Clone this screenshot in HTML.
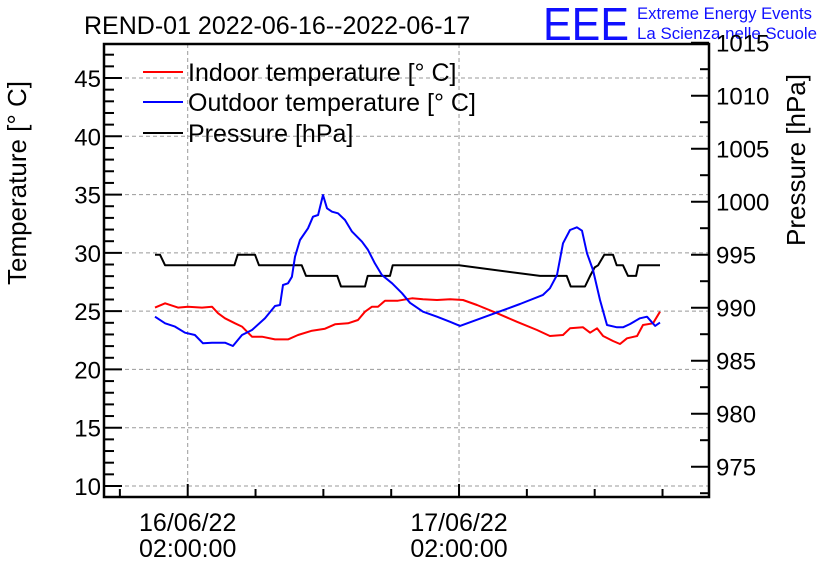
<!DOCTYPE html>
<html><head><meta charset="utf-8"><style>
html,body{margin:0;padding:0;background:#fff;}
svg{display:block;font-family:"Liberation Sans",sans-serif;}
</style></head><body>
<svg id="chart" width="836" height="572" viewBox="0 0 836 572">
<text x="84" y="34" font-size="25">REND-01 2022-06-16--2022-06-17</text>
<text x="543" y="40" font-size="46" fill="#1010ff" textLength="86" lengthAdjust="spacingAndGlyphs">EEE</text>
<text x="637" y="19" font-size="16.5" fill="#1010ff" textLength="175" lengthAdjust="spacingAndGlyphs">Extreme Energy Events</text>
<text x="637" y="39" font-size="16.5" fill="#1010ff" textLength="180" lengthAdjust="spacingAndGlyphs">La Scienza nelle Scuole</text>
<text transform="translate(26,183) rotate(-90)" text-anchor="middle" font-size="26">Temperature [° C]</text>
<text transform="translate(805,160) rotate(-90)" text-anchor="middle" font-size="26">Pressure [hPa]</text>
<g id="grid"></g>
<g id="series"></g>
<g id="axes"></g>
<g id="legend"></g>
</svg>
<script>
const indoorHours=[-0.89,0,1.14,2.03,3.26,4.15,4.68,5.30,6.18,6.80,7.69,8.57,9.72,10.87,11.76,12.99,14.14,15.03,16.18,17.06,17.68,18.30,18.83,19.45,20.60,21.84,22.81,24.05,25.21,26.35,27.59,29.36,31.13,32.9,34.04,35.2,35.82,36.97,37.59,38.2,38.74,39.62,40.24,40.86,41.75,42.27,43.16,43.78];
const indoorTemp=[25.30,25.67,25.30,25.38,25.30,25.38,24.82,24.39,23.96,23.67,22.81,22.81,22.58,22.58,22.95,23.32,23.49,23.87,23.96,24.24,24.95,25.38,25.38,25.90,25.90,26.10,26.02,25.96,26.02,25.96,25.53,24.82,24.09,23.38,22.87,22.95,23.53,23.61,23.15,23.53,22.87,22.44,22.18,22.67,22.87,23.81,23.96,24.95];
const outdoorHours=[-0.89,0,0.88,1.76,2.64,3.35,4.15,5.30,6.0,6.80,7.69,8.84,9.72,10.16,10.43,10.87,11.22,11.49,11.93,12.64,13.08,13.53,13.97,14.32,14.76,15.29,15.91,16.53,17.42,17.95,18.56,19.18,20.08,20.96,21.66,22.81,24.05,25.21,26.09,29.0,31.39,33.43,34.04,34.67,35.2,35.82,36.43,36.88,37.32,37.85,38.47,39.09,39.97,40.5,41.13,42.0,42.63,43.34,43.78];
const outdoorTemp=[24.52,23.96,23.67,23.15,22.95,22.24,22.29,22.29,22.01,22.95,23.38,24.39,25.44,25.53,27.24,27.39,27.95,29.67,31.10,32.11,33.10,33.25,34.96,33.82,33.53,33.39,32.82,31.82,30.96,30.25,29.10,28.10,27.39,26.53,25.72,24.95,24.52,24.09,23.73,24.76,25.61,26.39,26.96,28.10,30.82,31.96,32.19,31.90,29.96,28.53,25.96,23.81,23.61,23.61,23.9,24.39,24.52,23.73,24.02];
const pressHours=[-0.89,-0.45,0,6.13,6.42,7.95,8.31,12.08,12.46,15.23,15.56,17.68,17.92,19.89,20.13,26.0,33.16,35.52,35.88,37.14,37.59,38.0,38.3,38.85,39.62,39.95,40.5,40.95,41.66,41.86,43.78];
const pressVal=[995,995,994,994,995,995,994,994,993,993,992,992,993,993,994,994,993,993,992,992,993,993.8,994,995,995,994,994,993,993,994,994];
const tempTicks=[10,15,20,25,30,35,40,45];
const pressTicks=[975,980,985,990,995,1000,1005,1010,1015];
const timeMajor=[2,26];
const timeLabels=[["16/06/22","02:00:00"],["17/06/22","02:00:00"]];

const L=104,R=709,T=44,B=497;
const xs=h=>165.1+h*11.305;
const yT=t=>486-(t-10)*11.657;
const yP=p=>254.7+(995-p)*10.6;
const NS="http://www.w3.org/2000/svg";
function mk(tag,attrs,parent){const e=document.createElementNS(NS,tag);for(const k in attrs)e.setAttribute(k,attrs[k]);parent.appendChild(e);return e;}
const grid=document.getElementById('grid'),axes=document.getElementById('axes'),series=document.getElementById('series'),legend=document.getElementById('legend');

tempTicks.forEach(t=>{const g=mk('line',{x1:L,x2:R,y1:yT(t),y2:yT(t),stroke:'#999','stroke-dasharray':'4,3','stroke-width':1},grid);

});
timeMajor.forEach(h=>{const g=mk('line',{x1:xs(h),x2:xs(h),y1:T,y2:B,stroke:'#999','stroke-dasharray':'4,3','stroke-width':1},grid);

});

function poly(hs,vs,yf,color,name){const pts=hs.map((h,i)=>xs(h).toFixed(1)+','+yf(vs[i]).toFixed(1)).join(' ');
const p=mk('polyline',{points:pts,fill:'none',stroke:color,'stroke-width':2,'stroke-linejoin':'round'},series);

}
poly(pressHours,pressVal,yP,'#000','pressure-line');
poly(indoorHours,indoorTemp,yT,'#ff0000','indoor-temperature-line');
poly(outdoorHours,outdoorTemp,yT,'#0000ff','outdoor-temperature-line');

const fr=mk('rect',{x:L,y:T,width:R-L,height:B-T,fill:'none',stroke:'#000','stroke-width':2.5},axes);


for(let t=10;t<=47;t++){const maj=t%5===0;mk('line',{x1:L,x2:L+(maj?18:10),y1:yT(t),y2:yT(t),stroke:'#000','stroke-width':2},axes);}
tempTicks.forEach(t=>{const e=mk('text',{x:101,y:yT(t)+9,'text-anchor':'end','font-size':24},axes);e.textContent=t;

});
for(let p=972.5;p<=1015;p+=2.5){const maj=p%5===0;mk('line',{x1:R,x2:R-(maj?18:9),y1:yP(p),y2:yP(p),stroke:'#000','stroke-width':2},axes);}
pressTicks.forEach(p=>{const e=mk('text',{x:716,y:yP(p)+9,'font-size':24},axes);e.textContent=p;

});
for(let h=-4;h<=44;h+=6){const maj=timeMajor.includes(h);mk('line',{x1:xs(h),x2:xs(h),y1:B,y2:B-(maj?13:8),stroke:'#000','stroke-width':2},axes);}
timeMajor.forEach((h,i)=>{const a=mk('text',{x:xs(h),y:531,'text-anchor':'middle','font-size':25},axes);a.textContent=timeLabels[i][0];


const b=mk('text',{x:xs(h),y:557,'text-anchor':'middle','font-size':25},axes);b.textContent=timeLabels[i][1];

});

const leg=[['Indoor temperature [° C]','#ff0000',72],['Outdoor temperature [° C]','#0000ff',102],['Pressure [hPa]','#000',133]];
leg.forEach(([lab,c,y])=>{mk('line',{x1:143,x2:183,y1:y,y2:y,stroke:c,'stroke-width':2},legend);
const e=mk('text',{x:188,y:y+9,'font-size':25},legend);e.textContent=lab;

});
</script>
</body></html>
